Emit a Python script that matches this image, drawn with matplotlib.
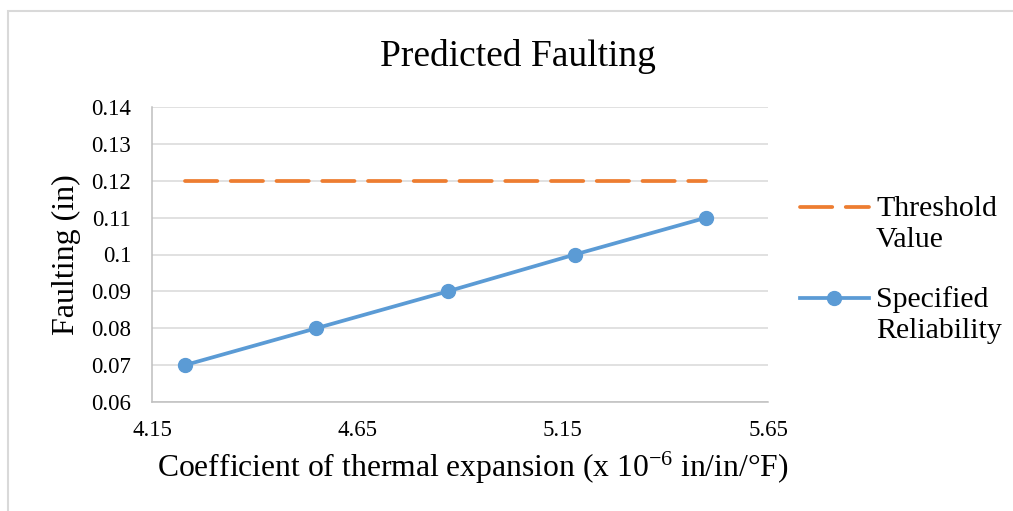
import numpy as np
import matplotlib
matplotlib.use("Agg")
import matplotlib.pyplot as plt
from matplotlib.patches import Rectangle
from matplotlib.ticker import FuncFormatter

# coefficient of thermal expansion values and predicted faulting
cte = [4.23, 4.55, 4.87, 5.18, 5.50]
faulting = [0.07, 0.08, 0.09, 0.10, 0.11]
threshold = [0.12, 0.12, 0.12, 0.12, 0.12]

x_ticks = [4.15, 4.65, 5.15, 5.65]
y_ticks = [0.06, 0.07, 0.08, 0.09, 0.10, 0.11, 0.12, 0.13, 0.14]

series_names = ["Threshold\nValue", "Specified\nReliability"]

plt.rcParams["font.family"] = ["Liberation Serif", "DejaVu Serif"]
plt.rcParams["mathtext.fontset"] = "custom"
plt.rcParams["mathtext.rm"] = "Liberation Serif"
plt.rcParams["mathtext.it"] = "Liberation Serif:italic"

W, H = 1013, 511
fig = plt.figure(figsize=(W / 100, H / 100), dpi=100)
ax = fig.add_axes([152 / W, 1 - 402 / H, (768 - 152) / W, (402 - 107) / H])

# chart frame
fig.patches.append(Rectangle((8 / W, -0.1), 1.2, (H - 11) / H + 0.1,
                             transform=fig.transFigure, fill=False,
                             edgecolor="#D9D9D9", lw=1.5))

orange = "#ED7D31"
blue = "#5B9BD5"

l1, = ax.plot(cte, threshold, color=orange, lw=2.7, dashes=(8.6, 3.6),
              dash_capstyle="round", label=series_names[0])
l2, = ax.plot(cte, faulting, color=blue, lw=2.7, marker="o", markersize=10,
              label=series_names[1])

ax.set_xlim(x_ticks[0], x_ticks[-1])
ax.set_ylim(y_ticks[0], y_ticks[-1])
ax.set_xticks(x_ticks)
ax.set_yticks(y_ticks)
ax.yaxis.set_major_formatter(FuncFormatter(lambda v, p: "{:g}".format(round(v, 2))))
ax.xaxis.set_major_formatter(FuncFormatter(lambda v, p: "{:g}".format(round(v, 2))))
ax.tick_params(length=0, labelsize=16.5, pad=15)
ax.tick_params(axis="x", pad=13)

ax.grid(axis="y", color="#D9D9D9", lw=1.1)
ax.set_axisbelow(True)
for side in ["top", "right"]:
    ax.spines[side].set_visible(False)
for side in ["left", "bottom"]:
    ax.spines[side].set_color("#BFBFBF")
    ax.spines[side].set_linewidth(1.1)

ax.set_ylabel("Faulting (in)", fontsize=23, labelpad=7)
ax.set_xlabel("Coefficient of thermal expansion (x 10$^{\\mathrm{-6}}$ in/in/°F)",
              fontsize=22.8, labelpad=6, x=(473 - 152) / 616)

fig.text(518 / W, 1 - 66 / H, "Predicted Faulting", fontsize=27,
         ha="center", va="baseline")

leg = fig.legend(handles=[l1, l2], loc="center left",
                 bbox_to_anchor=(788 / W, 1 - 270 / H), frameon=False,
                 fontsize=21.5, handlelength=2.3, handletextpad=0.25,
                 labelspacing=1.12, borderaxespad=0)
for t in leg.get_texts():
    t.set_linespacing(1.22)
# put each key beside the first line of its two-line label
for h in leg.legend_handles:
    h.set_ydata(np.asarray(h.get_ydata()) + 12)

fig.savefig("out.png", dpi=100)
